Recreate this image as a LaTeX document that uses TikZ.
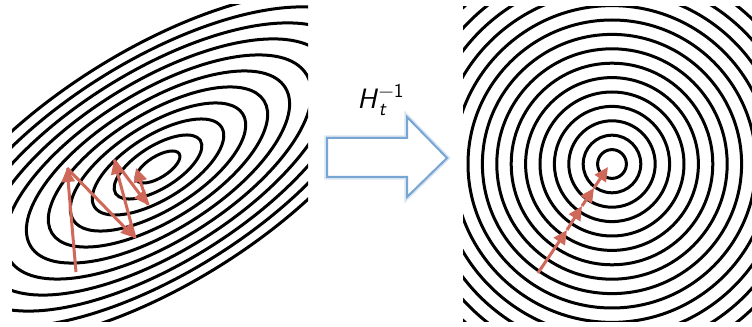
\documentclass[tikz,border=0pt]{standalone}
\usepackage{amsmath}
\usepackage{tikz}
\usetikzlibrary{arrows.meta}

\definecolor{stepred}{RGB}{208,104,90}
\definecolor{arrowblue}{RGB}{120,165,210}

\begin{document}
\begin{tikzpicture}[
        x=0.5pt, y=0.5pt,
        % line styles
        contour/.style={draw=black, line width=1.5pt},
        stepline/.style={
            draw=stepred,
            line width=1.5pt,
            -{Triangle[length=7pt,width=6.5pt]}
        },
        bigarrow/.style={draw=arrowblue, line width=1pt, fill=white, line join=miter},
        glow/.style={draw=arrowblue!30, line width=2.6pt, line join=miter},
        label_text/.style={font=\fontsize{14}{16}\selectfont\sffamily\itshape}
    ]
    \useasboundingbox (0,0) rectangle (752,327);

    % --- 1. LEFT: ELONGATED CONTOURS ---
    \begin{scope}
        \clip (12,5) rectangle (308,322);
        \foreach \k in {1,...,11}
            \draw[contour, shift={(158,160)}, rotate=32] (0,0) ellipse [x radius=25*\k, y radius=10.6*\k];
    \end{scope}

    % --- 2. RIGHT: ROUND CONTOURS ---
    \begin{scope}
        \clip (463,5) rectangle (752,320);
        \foreach \k in {1,...,16}
            \draw[contour] (612,163) circle [radius=14.4*\k];
    \end{scope}

    % --- 3. STEPS ---
    \coordinate (q0) at (76,55);
    \coordinate (q1) at (67,159);
    \coordinate (q2) at (135,89);
    \coordinate (q3) at (114,167);
    \coordinate (q4) at (148,122);
    \coordinate (q5) at (136,159);
    \foreach \a/\b in {q0/q1, q1/q2, q2/q3, q3/q4, q4/q5}
        \draw[stepline] (\a) -- (\b);

    \coordinate (p0) at (538,54);
    \coordinate (p1) at (567,97);
    \coordinate (p2) at (582,121);
    \coordinate (p3) at (594,139);
    \coordinate (p4) at (608,160);
    \foreach \a/\b in {p0/p1, p1/p2, p2/p3, p3/p4}
        \draw[stepline] (\a) -- (\b);

    % --- 4. BIG ARROW + LABEL ---
    \draw[glow] (327,150) -- (407,150) -- (407,130) -- (447,169) -- (407,210) -- (407,189) -- (327,189) -- cycle;
    \draw[bigarrow] (327,150) -- (407,150) -- (407,130) -- (447,169) -- (407,210) -- (407,189) -- (327,189) -- cycle;

    \node[label_text] (hinv) at (381,227) {H\kern1pt$_{\textsf{\itshape t}}^{\textsf{\upshape −1}}$};

\end{tikzpicture}
\end{document}
